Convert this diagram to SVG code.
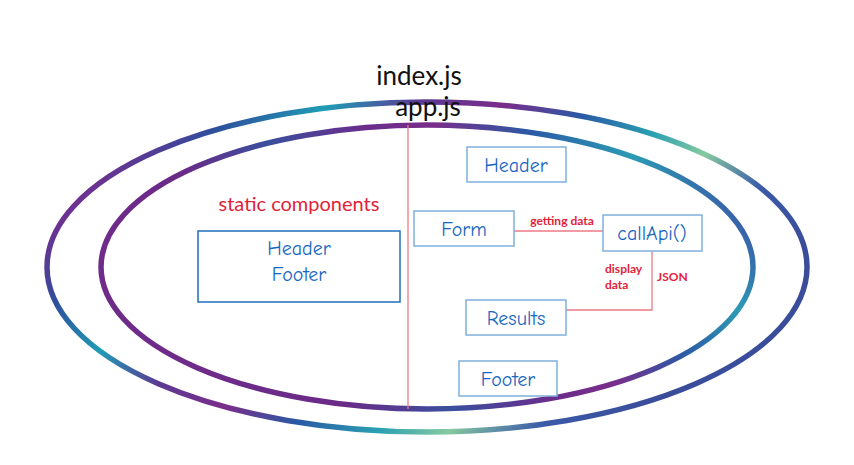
<svg xmlns="http://www.w3.org/2000/svg" width="854" height="465" viewBox="0 0 854 465">
<style>
.ring{fill:none;stroke-width:5.5}
.box{fill:#fff;stroke:#7fb0dc;stroke-width:1.5}
.lbl{font-family:"Comic Neue","Lato","Noto Sans",sans-serif;fill:#1666bf;font-size:20px;text-anchor:middle}
.red{font-family:"Lato","Noto Sans",sans-serif;fill:#e32238;font-weight:bold;font-size:12px}
.sc{font-family:"Lato","Noto Sans",sans-serif;fill:#e32238;font-size:20px;text-anchor:middle}
.ttl{font-family:"Lato","Noto Sans",sans-serif;fill:#111;font-size:26px;text-anchor:middle}
.con{fill:none;stroke:#ee7a86;stroke-width:1.3}
</style>
<defs>
<linearGradient id="g1" x1="0" y1="0" x2="1" y2="0.4">
<stop offset="0" stop-color="#6a2a86"/>
<stop offset="0.12" stop-color="#7b2a8e"/>
<stop offset="0.22" stop-color="#2d4f9c"/>
<stop offset="0.32" stop-color="#1f9cb5"/>
<stop offset="0.42" stop-color="#5b3a93"/>
<stop offset="0.52" stop-color="#7a2d8a"/>
<stop offset="0.62" stop-color="#2a5aa5"/>
<stop offset="0.72" stop-color="#2aa0b2"/>
<stop offset="0.8" stop-color="#86c9a0"/>
<stop offset="0.9" stop-color="#3a5aa8"/>
<stop offset="1" stop-color="#3a4d9a"/>
</linearGradient>
<linearGradient id="g2" x1="0" y1="0.3" x2="1" y2="0">
<stop offset="0" stop-color="#6e2b8a"/>
<stop offset="0.15" stop-color="#6a2a86"/>
<stop offset="0.3" stop-color="#3a4f9e"/>
<stop offset="0.45" stop-color="#6a2d8c"/>
<stop offset="0.55" stop-color="#7a2d8a"/>
<stop offset="0.68" stop-color="#2a5aa5"/>
<stop offset="0.8" stop-color="#2c9bb4"/>
<stop offset="0.9" stop-color="#3a5aa8"/>
<stop offset="1" stop-color="#2f4a98"/>
</linearGradient>
</defs>
<rect width="854" height="465" fill="#fff"/>
<g id="index-js">
<ellipse class="ring" cx="427" cy="267" rx="380" ry="165" stroke="url(#g1)"/>
<text class="ttl" x="419" y="85">index.js</text>
</g>
<g id="app-js">
<ellipse class="ring" cx="427" cy="267" rx="326" ry="142" stroke="url(#g2)"/>
<text class="ttl" x="428" y="116">app.js</text>
</g>
<g id="connectors">
<line class="con" x1="408" y1="125" x2="408" y2="409"/>
<line class="con" x1="514" y1="231" x2="603" y2="231"/>
<polyline class="con" points="652,251 652,310 566,310"/>
<text class="red" x="562" y="225" text-anchor="middle">getting data</text>
<text class="red" x="605" y="273">display</text>
<text class="red" x="605" y="289">data</text>
<text class="red" x="657" y="281">JSON</text>
</g>
<g id="static">
<text class="sc" x="299" y="211">static components</text>
<rect x="198" y="231" width="202" height="71" fill="#fff" stroke="#1f6fbf" stroke-width="1.5"/>
<text class="lbl" x="299" y="255">Header</text>
<text class="lbl" x="299" y="281">Footer</text>
</g>
<g id="header"><rect class="box" x="467" y="147" width="99" height="35"/><text class="lbl" x="516" y="172">Header</text></g>
<g id="form"><rect class="box" x="414" y="211" width="100" height="35"/><text class="lbl" x="464" y="236">Form</text></g>
<g id="callapi"><rect class="box" x="603" y="215" width="99" height="36"/><text class="lbl" x="652" y="240">callApi()</text></g>
<g id="results"><rect class="box" x="466" y="300" width="100" height="35"/><text class="lbl" x="516" y="325">Results</text></g>
<g id="footer"><rect class="box" x="459" y="361" width="98" height="35"/><text class="lbl" x="508" y="386">Footer</text></g>
</svg>
